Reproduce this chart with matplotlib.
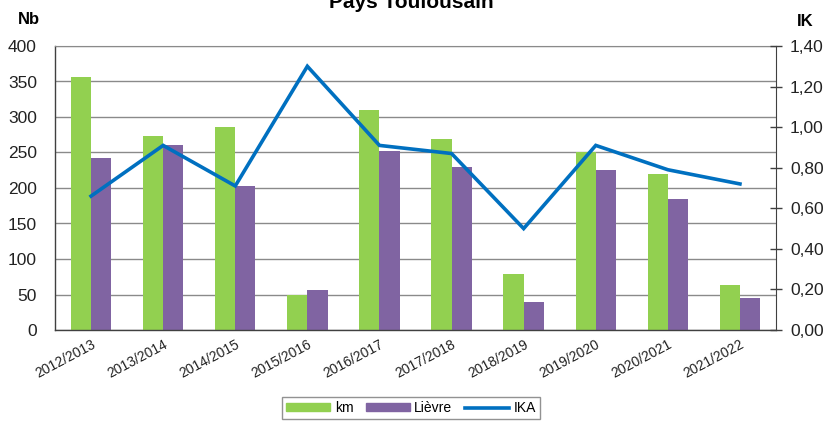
import matplotlib
matplotlib.use("Agg")
import matplotlib.pyplot as plt
import numpy as np
from matplotlib.patches import Patch
from matplotlib.lines import Line2D

plt.rcParams['font.family'] = ['Liberation Sans', 'DejaVu Sans']

seasons = ["2012/2013", "2013/2014", "2014/2015", "2015/2016", "2016/2017",
           "2017/2018", "2018/2019", "2019/2020", "2020/2021", "2021/2022"]
km = [356, 273, 286, 49, 310, 269, 79, 250, 220, 63]
lievre = [242, 260, 203, 56, 252, 229, 39, 225, 184, 45]
ika = [0.66, 0.91, 0.71, 1.30, 0.91, 0.87, 0.50, 0.91, 0.79, 0.72]

left_ticks = [0, 50, 100, 150, 200, 250, 300, 350, 400]
right_ticks = [0.0, 0.2, 0.4, 0.6, 0.8, 1.0, 1.2, 1.4]

GREEN = "#92D050"
PURPLE = "#8064A2"
BLUE = "#0070C0"

W, H = 832, 423
fig = plt.figure(figsize=(W / 100, H / 100), dpi=100)
ax = fig.add_axes([55 / W, 1 - 330 / H, (776 - 55) / W, (330 - 46) / H])

x = np.arange(len(seasons))
bw = 0.28
ax.bar(x - bw / 2, km, width=bw, color=GREEN, zorder=2)
ax.bar(x + bw / 2, lievre, width=bw, color=PURPLE, zorder=2)
ax.set_xlim(-0.5, len(seasons) - 0.5)
ax.set_ylim(0, 400)
ax.set_yticks(left_ticks)
ax.set_yticklabels([str(v) for v in left_ticks], fontsize=12.5, color="#222222")
ax.tick_params(axis='y', length=0, pad=13)
ax.yaxis.grid(True, color="#8a8a8a", linewidth=1.0, zorder=0)
ax.set_axisbelow(True)
ax.set_xticks(x)
ax.set_xticklabels(seasons, rotation=28, ha='right', rotation_mode='anchor',
                   fontsize=10, color="#222222")
ax.tick_params(axis='x', length=0, pad=5)
for s in ['left', 'bottom']:
    ax.spines[s].set_color("#404040")
    ax.spines[s].set_linewidth(1.0)
ax.spines['top'].set_color("#8a8a8a")
ax.spines['right'].set_visible(False)

ax2 = ax.twinx()
ax2.plot(x, ika, color=BLUE, linewidth=2.6, zorder=3, solid_joinstyle='miter')
ax2.set_ylim(0, 1.4)
ax2.set_yticks(right_ticks)
ax2.set_yticklabels([f"{v:.2f}".replace('.', ',') for v in right_ticks],
                    fontsize=12.5, color="#222222")
ax2.tick_params(axis='y', direction='inout', length=8, width=1, color="#404040", pad=6)
ax2.spines['right'].set_color("#404040")
for s in ['left', 'top', 'bottom']:
    ax2.spines[s].set_visible(False)

fig.text(411 / W, 1 - 8 / H, "Pays Toulousain", ha='center', va='baseline',
         fontsize=15, fontweight='bold')
fig.text(18 / W, 1 - 24 / H, "Nb", ha='left', va='baseline', fontsize=12, fontweight='bold')
fig.text(797 / W, 1 - 26 / H, "IK", ha='left', va='baseline', fontsize=12, fontweight='bold')

handles = [Patch(color=GREEN, label="km"),
           Patch(color=PURPLE, label="Lièvre"),
           Line2D([0], [0], color=BLUE, linewidth=2.6, label="IKA")]
leg = fig.legend(handles=handles, loc='upper center', bbox_to_anchor=(411 / W, 1 - 397 / H),
                 ncol=3, frameon=True, fancybox=False, fontsize=10,
                 handlelength=3.2, handleheight=0.5, columnspacing=0.9, handletextpad=0.3,
                 borderpad=0.3, borderaxespad=0.0)
leg.get_frame().set_edgecolor("#777777")
leg.get_frame().set_linewidth(1.0)

fig.savefig("out.png", dpi=100)
